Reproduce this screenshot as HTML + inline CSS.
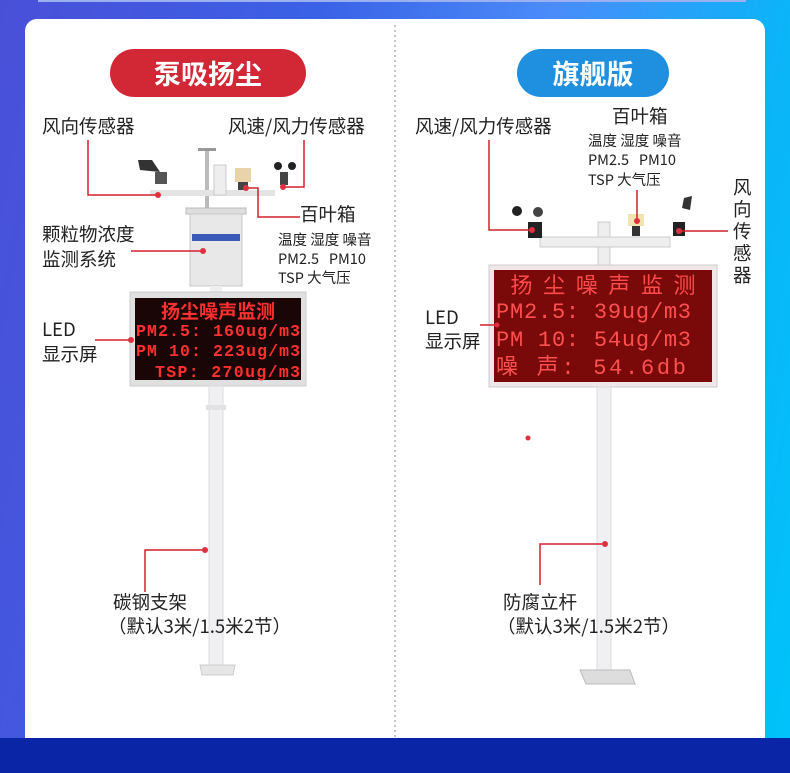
<!DOCTYPE html>
<html><head><meta charset="utf-8"><style>
html,body{margin:0;padding:0}
body{width:790px;height:773px;overflow:hidden;position:relative;background:linear-gradient(100deg,#4a4fd8 0%,#3a62e6 35%,#4a8cfa 60%,#0bb4f8 85%,#00c4fb 100%);font-family:"Noto Sans CJK SC","Liberation Sans",sans-serif}
.bot{position:absolute;left:0;top:738px;width:790px;height:35px;background:#0a26a6}
.card{position:absolute;left:25px;top:19px;width:740px;height:719px;background:#fff;border-radius:12px 12px 0 0}
svg{position:absolute;left:0;top:0}
.t{position:absolute;color:#222;font-size:18.5px;line-height:25px;white-space:nowrap}
.s{position:absolute;color:#222;font-size:14.5px;line-height:19px;white-space:nowrap}
.b{position:absolute;height:48px;border-radius:24px;color:#fff;font-size:27px;font-weight:bold;text-align:center;line-height:48px}
</style></head><body>
<div class="bot"></div>
<div style="position:absolute;left:38px;top:0;width:708px;height:2px;background:#9ab0f0"></div>
<div class="card"></div>
<svg width="790" height="773" viewBox="0 0 790 773">
<line x1="395" y1="25" x2="395" y2="738" stroke="#888" stroke-dasharray="2,3"/>
<rect x="205" y="148" width="4" height="72" fill="#bbb"/>
<rect x="198" y="148" width="18" height="3" fill="#999"/>
<rect x="150" y="190" width="125" height="6" fill="#e4e4e4"/>
<rect x="214" y="165" width="12" height="30" fill="#eee" stroke="#ccc"/>
<path d="M138 160 L152 160 L160 172 L140 170 Z" fill="#333"/><rect x="155" y="172" width="12" height="12" fill="#555"/>
<rect x="235" y="168" width="16" height="14" fill="#e8d4a8"/><rect x="238" y="182" width="10" height="8" fill="#444"/>
<circle cx="278" cy="166" r="4" fill="#222"/><circle cx="292" cy="166" r="4" fill="#222"/><rect x="280" y="172" width="8" height="13" fill="#444"/>
<rect x="186" y="208" width="60" height="6" fill="#ddd" stroke="#bbb"/>
<rect x="190" y="214" width="52" height="72" fill="#e8e8e8" stroke="#c8c8c8"/>
<rect x="192" y="234" width="48" height="7" fill="#3a5ab8"/>
<rect x="210" y="286" width="12" height="10" fill="#eee"/>
<rect x="130" y="292" width="176" height="94" fill="#e0e0e0" stroke="#ccc"/>
<rect x="135" y="298" width="166" height="82" fill="#1a0606"/>
<text x="218" y="318" fill="#ff3030" font-size="19" font-weight="bold" text-anchor="middle" font-family="Noto Sans CJK SC">扬尘噪声监测</text>
<text x="136" y="336" fill="#ff3030" font-size="16.5" font-weight="bold" font-family="Liberation Mono" textLength="164">PM2.5: 160ug/m3</text>
<text x="136" y="356" fill="#ff3030" font-size="16.5" font-weight="bold" font-family="Liberation Mono" textLength="164">PM 10: 223ug/m3</text>
<text x="155" y="377" fill="#ff3030" font-size="16.5" font-weight="bold" font-family="Liberation Mono" textLength="145">TSP: 270ug/m3</text>
<rect x="209" y="386" width="14" height="282" fill="#f0f0f3" stroke="#ddd"/>
<rect x="206" y="405" width="20" height="5" fill="#e2e2e2"/>
<path d="M200 665 L235 665 L233 675 L202 675 Z" fill="#e6e6e6" stroke="#ccc"/>
<rect x="598" y="222" width="12" height="45" fill="#eee" stroke="#ccc"/>
<rect x="540" y="237" width="130" height="10" fill="#eee" stroke="#ccc"/>
<rect x="528" y="222" width="14" height="16" fill="#222"/>
<circle cx="517" cy="211" r="5" fill="#222"/><circle cx="538" cy="212" r="5" fill="#444"/>
<rect x="628" y="214" width="16" height="12" fill="#f0e4b0"/><rect x="632" y="226" width="8" height="10" fill="#333"/>
<path d="M684 198 L692 196 L690 210 L682 208 Z" fill="#333"/><rect x="673" y="222" width="12" height="14" fill="#222"/>
<rect x="489" y="265" width="228" height="122" fill="#f0e8e8" stroke="#ccc"/>
<rect x="494" y="270" width="218" height="112" fill="#7a0a0a"/>
<text x="603" y="293" fill="#ff4a4a" font-size="22" text-anchor="middle" font-family="Noto Sans CJK SC" textLength="185">扬尘噪声监测</text>
<text x="496" y="318" fill="#ff5050" font-size="22" font-family="Liberation Mono" textLength="195">PM2.5:  39ug/m3</text>
<text x="496" y="346" fill="#ff5050" font-size="22" font-family="Liberation Mono" textLength="195">PM 10:  54ug/m3</text>
<text x="496" y="374" fill="#ff5050" font-size="22" font-family="Liberation Mono" textLength="190">噪 声:  54.6db</text>
<rect x="597" y="387" width="14" height="285" fill="#f0f0f3" stroke="#ddd"/>
<path d="M580 670 L630 670 L635 684 L586 684 Z" fill="#ddd" stroke="#bbb"/>
<g stroke="#d4202c" stroke-width="1.5" fill="none">
<polyline points="88,140 88,195 158,195"/>
<polyline points="304,140 304,187 283,187"/>
<polyline points="246,188 258,188 258,217 300,217"/>
<line x1="131" y1="251" x2="203" y2="251"/>
<line x1="95" y1="340" x2="131" y2="340"/>
<polyline points="205,550 145,550 145,592"/>
<polyline points="489,140 489,230 532,230"/>
<line x1="637" y1="190" x2="637" y2="221"/>
<line x1="679" y1="231" x2="728" y2="231"/>
<line x1="480" y1="325" x2="497" y2="325"/>
<polyline points="605,544 540,544 540,585"/>
</g>
<g fill="#e03040">
<circle cx="158" cy="195" r="3"/><circle cx="283" cy="187" r="3"/><circle cx="246" cy="188" r="3"/><circle cx="203" cy="251" r="3"/><circle cx="131" cy="340" r="3"/><circle cx="205" cy="550" r="3"/>
<circle cx="532" cy="230" r="3"/><circle cx="637" cy="221" r="3"/><circle cx="679" cy="231" r="3"/><circle cx="497" cy="325" r="2.5"/><circle cx="528" cy="438" r="2.5"/><circle cx="605" cy="544" r="3"/>
</g>
</svg>
<div class="b" style="left:110px;top:49px;width:196px;background:#d22735">泵吸扬尘</div>
<div class="b" style="left:517px;top:49px;width:152px;background:#1f8fe0">旗舰版</div>
<div class="t" style="left:42px;top:114px">风向传感器</div>
<div class="t" style="left:228px;top:114px">风速/风力传感器</div>
<div class="t" style="left:300px;top:202px">百叶箱</div>
<div class="s" style="left:278px;top:230px">温度 湿度 噪音</div>
<div class="s" style="left:278px;top:249px">PM2.5&nbsp;&nbsp;&nbsp;PM10</div>
<div class="s" style="left:278px;top:268px">TSP 大气压</div>
<div class="t" style="left:42px;top:222px">颗粒物浓度</div>
<div class="t" style="left:42px;top:247px">监测系统</div>
<div class="t" style="left:42px;top:317px">LED</div>
<div class="t" style="left:42px;top:342px">显示屏</div>
<div class="t" style="left:113px;top:590px">碳钢支架</div>
<div class="t" style="left:108px;top:614px">（默认3米/1.5米2节）</div>
<div class="t" style="left:415px;top:114px">风速/风力传感器</div>
<div class="t" style="left:612px;top:104px">百叶箱</div>
<div class="s" style="left:588px;top:131px">温度 湿度 噪音</div>
<div class="s" style="left:588px;top:150px">PM2.5&nbsp;&nbsp;&nbsp;PM10</div>
<div class="s" style="left:588px;top:170px">TSP 大气压</div>
<div class="t" style="left:733px;top:176px;width:19px;white-space:normal;line-height:22px">风向传感器</div>
<div class="t" style="left:425px;top:305px">LED</div>
<div class="t" style="left:425px;top:329px">显示屏</div>
<div class="t" style="left:503px;top:590px">防腐立杆</div>
<div class="t" style="left:497px;top:614px">（默认3米/1.5米2节）</div>
</body></html>
